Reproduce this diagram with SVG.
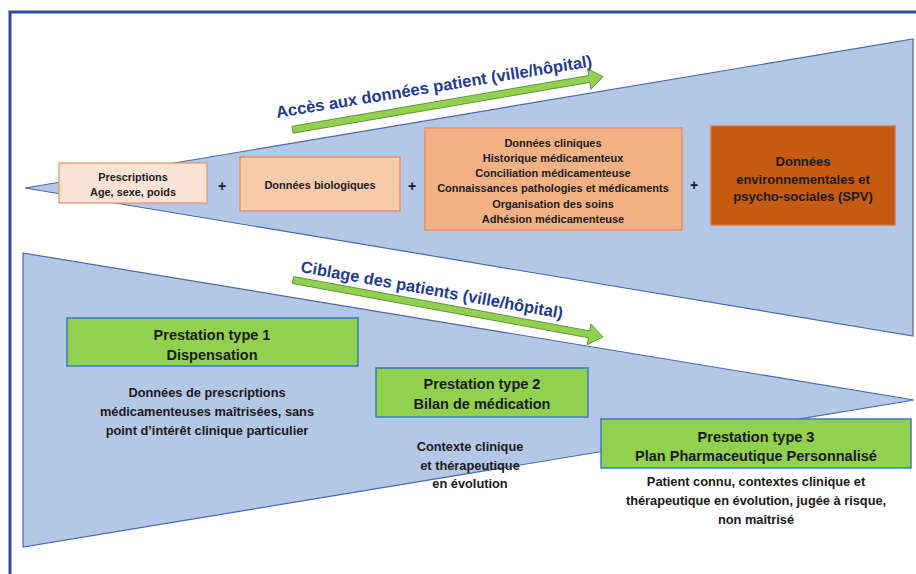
<svg xmlns="http://www.w3.org/2000/svg" width="916" height="574" viewBox="0 0 916 574">
  <defs>
    <style>
      .tri { fill: #B4C7E7; stroke: #4A69AD; stroke-width: 1.2; }
      .t { font-family: "Liberation Sans", Arial, sans-serif; font-weight: bold; fill: #1A1A1A; text-anchor: middle; }
      .lab { font-family: "Liberation Sans", Arial, sans-serif; font-weight: bold; fill: #1F3B8C; }
      .green { fill: #92D050; stroke: #3A7DB8; stroke-width: 1.5; }
      .arr { fill: #92D050; stroke: #4E8A2E; stroke-width: 0.8; }
    </style>
  </defs>
  <rect width="916" height="574" fill="#FFFFFF"/>
  <path d="M10,574 V12 H916" fill="none" stroke="#2E4B9E" stroke-width="3"/>

  <g id="funnel-top">
    <polygon class="tri" points="25,188 913,39 913,336"/>
  </g>
  <g id="funnel-bottom">
    <polygon class="tri" points="23,253 914,400 23,547"/>
  </g>

  <g id="connectors">
    <g id="arrow-acces" transform="translate(292.5,129.7) rotate(-9.7)">
      <polygon class="arr" points="0,-3.5 301,-3.5 301,-10.5 315,0 301,10.5 301,3.5 0,3.5"/>
    </g>
    <g id="arrow-ciblage" transform="translate(293,280) rotate(10.4)">
      <polygon class="arr" points="0,-3.5 301,-3.5 301,-10.5 315,0 301,10.5 301,3.5 0,3.5"/>
    </g>
  </g>

  <g id="label-acces">
    <text class="lab" font-size="16.5" transform="translate(277,118) rotate(-9.3)" textLength="320" lengthAdjust="spacingAndGlyphs">Accès aux données patient (ville/hôpital)</text>
  </g>
  <g id="label-ciblage">
    <text class="lab" font-size="16.5" transform="translate(300,272) rotate(10.1)" textLength="266" lengthAdjust="spacingAndGlyphs">Ciblage des patients (ville/hôpital)</text>
  </g>

  <g id="node-prescriptions">
    <rect x="59" y="163" width="148" height="40" fill="#FBE3D6" stroke="#E89A6A" stroke-width="1.3"/>
    <text class="t" font-size="10.9" x="133" y="181">Prescriptions</text>
    <text class="t" font-size="10.9" x="133" y="195.5">Age, sexe, poids</text>
  </g>
  <g id="plus-1"><text class="t" font-size="14" x="222" y="191">+</text></g>

  <g id="node-biologiques">
    <rect x="240" y="157" width="160" height="54" fill="#F8CBAD" stroke="#E88A55" stroke-width="1.3"/>
    <text class="t" font-size="11" x="320" y="189">Données biologiques</text>
  </g>
  <g id="plus-2"><text class="t" font-size="14" x="412" y="191">+</text></g>

  <g id="node-cliniques">
    <rect x="425" y="128" width="257" height="102" fill="#F4B183" stroke="#E88A55" stroke-width="1.3"/>
    <text class="t" font-size="11" x="553" y="146.7">Données cliniques</text>
    <text class="t" font-size="11" x="553" y="161.7">Historique médicamenteux</text>
    <text class="t" font-size="11" x="553" y="176.7">Conciliation médicamenteuse</text>
    <text class="t" font-size="11" x="553" y="192.4">Connaissances pathologies et médicaments</text>
    <text class="t" font-size="11" x="553" y="208">Organisation des soins</text>
    <text class="t" font-size="11" x="553" y="223">Adhésion médicamenteuse</text>
  </g>
  <g id="plus-3"><text class="t" font-size="14" x="694" y="190">+</text></g>

  <g id="node-environnementales">
    <rect x="711" y="126" width="184" height="99" fill="#C55A11" stroke="#D8763A" stroke-width="1.3"/>
    <text class="t" font-size="13" x="803" y="165.5">Données</text>
    <text class="t" font-size="13" x="803" y="183.5">environnementales et</text>
    <text class="t" font-size="13" x="803" y="201">psycho-sociales  (SPV)</text>
  </g>

  <g id="node-type1">
    <rect class="green" x="67" y="318" width="291" height="48"/>
    <text class="t" font-size="14.5" x="212" y="339.5">Prestation type 1</text>
    <text class="t" font-size="14.5" x="212" y="360">Dispensation</text>
  </g>
  <g id="desc-type1">
    <text class="t" font-size="12.8" x="207" y="396.5">Données de prescriptions</text>
    <text class="t" font-size="12.8" x="207" y="415.5">médicamenteuses maîtrisées, sans</text>
    <text class="t" font-size="12.8" x="207" y="434.5">point d’intérêt clinique particulier</text>
  </g>

  <g id="node-type2">
    <rect class="green" x="376" y="368" width="212" height="49"/>
    <text class="t" font-size="14.5" x="482" y="389">Prestation type 2</text>
    <text class="t" font-size="14.5" x="482" y="409">Bilan de médication</text>
  </g>
  <g id="desc-type2">
    <text class="t" font-size="12.8" x="470" y="450.5">Contexte clinique</text>
    <text class="t" font-size="12.8" x="470" y="469.5">et thérapeutique</text>
    <text class="t" font-size="12.8" x="470" y="488">en évolution</text>
  </g>

  <g id="node-type3">
    <rect class="green" x="601" y="419" width="310" height="49"/>
    <text class="t" font-size="14.5" x="756" y="441.5">Prestation type 3</text>
    <text class="t" font-size="14.5" x="756" y="461">Plan Pharmaceutique Personnalisé</text>
  </g>
  <g id="desc-type3">
    <text class="t" font-size="12.8" x="756" y="485.5">Patient connu, contextes clinique et</text>
    <text class="t" font-size="12.8" x="756" y="504.5">thérapeutique en évolution, jugée à risque,</text>
    <text class="t" font-size="12.8" x="756" y="523.5">non maîtrisé</text>
  </g>
</svg>
